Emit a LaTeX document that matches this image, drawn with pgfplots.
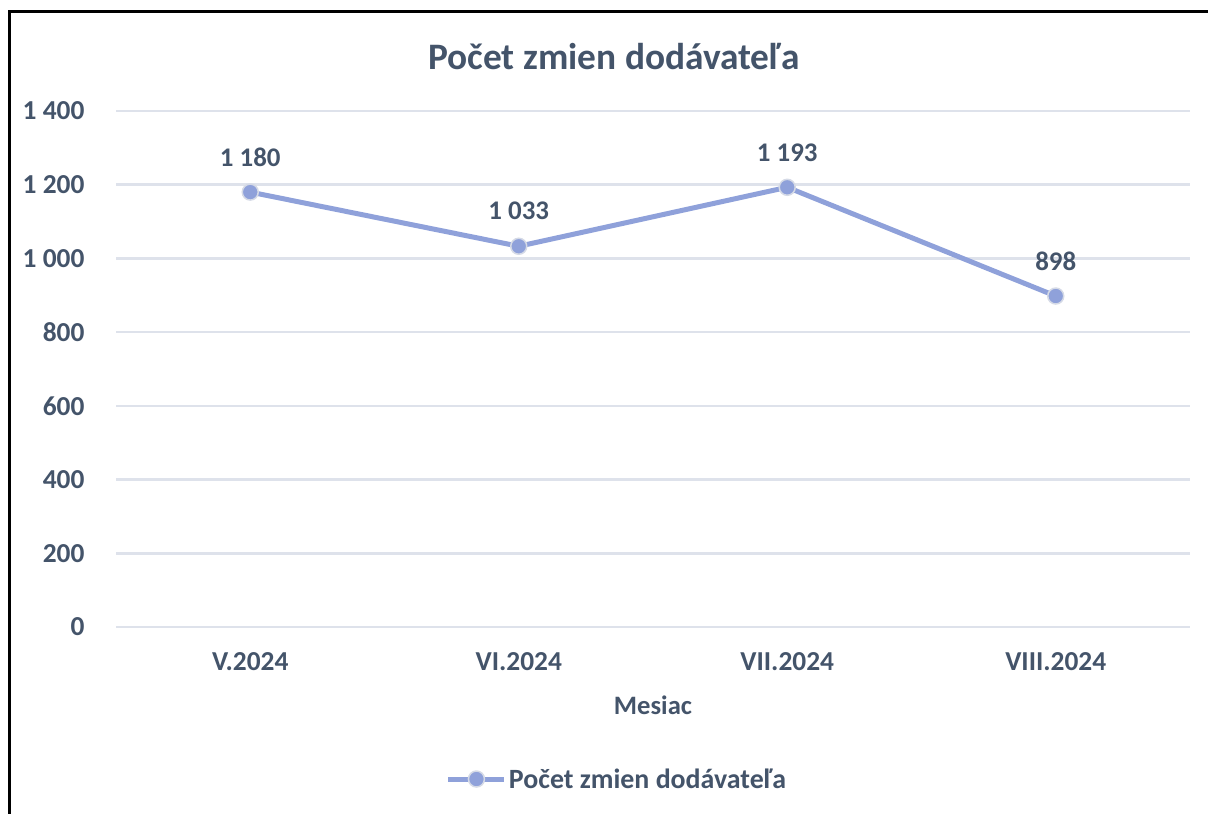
\documentclass[border=0pt]{standalone}
\usepackage{fontspec}
\setmainfont{Carlito}
\usepackage{pgfplots}
\pgfplotsset{compat=1.18}
\definecolor{txt}{HTML}{44546A}
\definecolor{ln}{HTML}{8FA1DA}
\definecolor{grd}{HTML}{DEE2EB}
\definecolor{mk}{HTML}{D5DAE6}
\begin{document}
\begin{tikzpicture}
\path[use as bounding box] (0bp,0bp) rectangle (1208bp,814bp);
\draw[line width=3bp] (9bp,0bp) -- (9bp,802bp) -- (1208bp,802bp);
\node[font=\fontsize{37.5}{42}\selectfont\bfseries, text=txt] at (614bp,757bp) {Počet zmien dodávateľa};
\begin{axis}[
  at={(116bp,187bp)}, anchor=south west,
  width=1074bp, height=516bp, scale only axis,
  xmin=-0.5, xmax=3.5, ymin=0, ymax=1400,
  enlargelimits=false, clip=false,
  xtick={0,1,2,3},
  xticklabels={V.2024,VI.2024,VII.2024,VIII.2024},
  ytick={0,200,400,600,800,1000,1200,1400},
  axis line style={draw=none},
  major tick length=0pt,
  ymajorgrids,
  grid style={grd, line width=2.5bp},
  /pgf/number format/assume math mode=true,
  /pgf/number format/1000 sep={\ },
  ticklabel style={font=\fontsize{27.5}{32}\selectfont\bfseries, text=txt},
  xticklabel style={anchor=center, yshift=-35bp},
  yticklabel style={anchor=east, xshift=-28bp},
  xlabel={Mesiac},
  xlabel style={at={(axis description cs:0.5,0)}, anchor=center, yshift=-78bp, font=\fontsize{26.7}{30}\selectfont\bfseries, text=txt},
  legend style={at={(axis description cs:0.4665,-0.2946)}, anchor=center, draw=none, fill=none, font=\fontsize{28}{32}\selectfont\bfseries, text=txt},
  legend image code/.code={\draw[mark repeat=2,mark phase=2,#1] plot coordinates {(0bp,0bp) (28bp,0bp) (56bp,0bp)};},
  nodes near coords,
  point meta=explicit symbolic,
  every node near coord/.append style={anchor=center, yshift=35bp, font=\fontsize{27}{32}\selectfont\bfseries, text=txt},
]
\addplot[ln, line width=5bp, mark=*, mark size=8bp, mark options={fill=ln, draw=mk, line width=1.5bp}]
  coordinates {(0,1180) [1 180] (1,1033) [1 033] (2,1193) [1 193] (3,898) [898]};
\addlegendentry{Počet zmien dodávateľa}
\end{axis}
\end{tikzpicture}
\end{document}
